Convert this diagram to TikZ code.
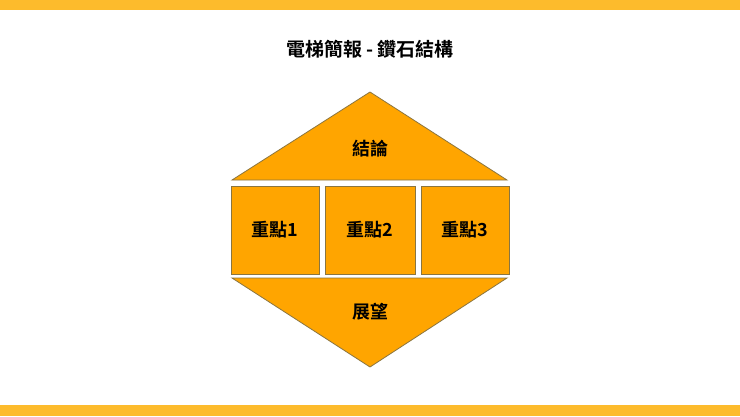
\documentclass[tikz,border=0pt]{standalone}
\usepackage{fontspec}
\newfontfamily\cjk{Noto Sans CJK TC}[BoldFont={Noto Sans CJK TC Bold}]
\definecolor{barc}{HTML}{FDBB2C}
\definecolor{boxfill}{HTML}{FFA500}
\definecolor{boxline}{HTML}{8A7540}
\tikzset{
  piece/.style={fill=boxfill,draw=boxline,line width=0.8pt},
  lbl/.style={font=\cjk\bfseries\fontsize{18}{20}\selectfont,text=black,inner sep=0pt},
}
\begin{document}
\begin{tikzpicture}[x=1pt,y=-1pt]
\useasboundingbox (0,0) rectangle (740,416);
\fill[white] (0,0) rectangle (740,416);
\fill[barc] (0,0) rectangle (740,10);
\fill[barc] (0,405) rectangle (740,416);
\node[font=\cjk\bfseries\fontsize{19}{21}\selectfont,inner sep=0pt] (title) at (370,49) {電梯簡報 - 鑽石結構};
% top triangle
\draw[piece] (232,180) -- (370,92) -- (507,180) -- cycle;
\node[lbl] (top) at (370,149) {結論};
% boxes
\draw[piece] (231,186) rectangle (319,274);
\draw[piece] (325,186) rectangle (415,274);
\draw[piece] (421,186) rectangle (509,274);
\node[lbl] (p1) at (275,230) {重點1};
\node[lbl] (p2) at (370,230) {重點2};
\node[lbl] (p3) at (465,230) {重點3};
% bottom triangle
\draw[piece] (232,278) -- (507,278) -- (370,367) -- cycle;
\node[lbl] (bot) at (370,312) {展望};
\end{tikzpicture}
\end{document}
